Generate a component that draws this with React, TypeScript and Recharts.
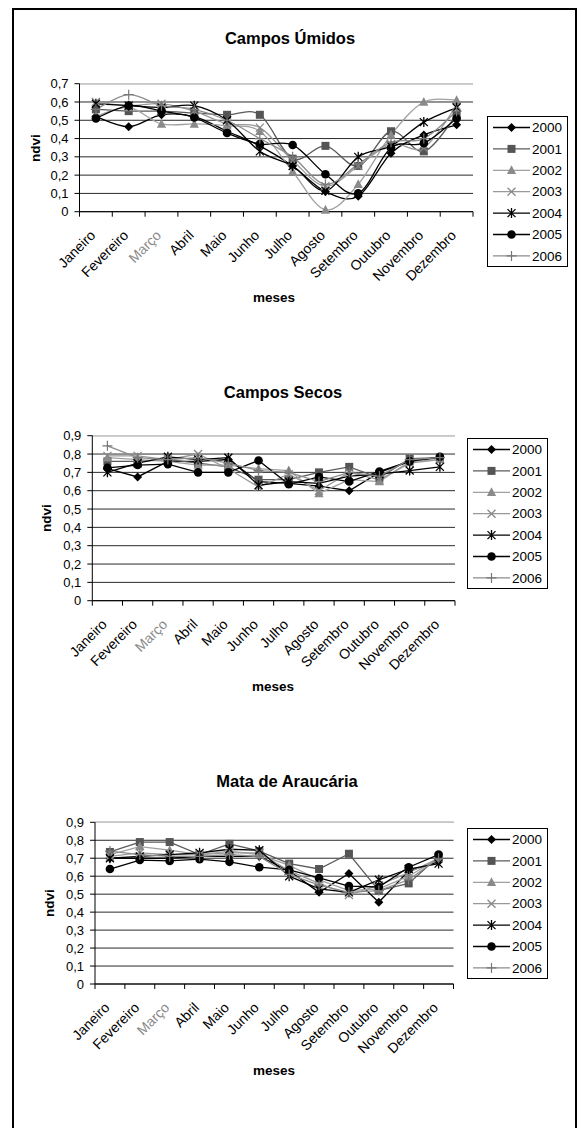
import { LineChart, Line, XAxis, YAxis, CartesianGrid, ReferenceLine, Legend } from "recharts"

const months = ["Janeiro", "Fevereiro", "Março", "Abril", "Maio", "Junho", "Julho", "Agosto", "Setembro", "Outubro", "Novembro", "Dezembro"]
const years = ["2000", "2001", "2002", "2003", "2004", "2005", "2006"]

// Campos Úmidos
const umidos2000 = [0.52, 0.465, 0.53, 0.52, 0.44, 0.36, 0.25, 0.11, 0.085, 0.32, 0.42, 0.475]
const umidos2001 = [0.56, 0.55, 0.55, 0.54, 0.53, 0.53, 0.29, 0.36, 0.25, 0.44, 0.33, 0.53]
const umidos2002 = [0.52, 0.57, 0.48, 0.48, 0.47, 0.44, 0.22, 0.01, 0.15, 0.42, 0.6, 0.61]
const umidos2003 = [0.6, 0.58, 0.59, 0.55, 0.48, 0.46, 0.28, 0.14, 0.25, 0.37, 0.35, 0.58]
const umidos2004 = [0.59, 0.58, 0.57, 0.58, 0.5, 0.33, 0.25, 0.115, 0.3, 0.36, 0.49, 0.57]
const umidos2005 = [0.51, 0.58, 0.55, 0.515, 0.43, 0.37, 0.365, 0.205, 0.1, 0.35, 0.375, 0.51]
const umidos2006 = [0.56, 0.64, 0.58, 0.56, 0.5, 0.4, 0.3, 0.15, 0.26, 0.38, 0.4, 0.55]

// Campos Secos
const secos2000 = [0.72, 0.675, 0.76, 0.76, 0.77, 0.65, 0.64, 0.625, 0.6, 0.7, 0.76, 0.78]
const secos2001 = [0.76, 0.76, 0.77, 0.75, 0.73, 0.66, 0.66, 0.7, 0.73, 0.67, 0.775, 0.78]
const secos2002 = [0.78, 0.77, 0.76, 0.74, 0.74, 0.72, 0.71, 0.585, 0.66, 0.65, 0.76, 0.77]
const secos2003 = [0.79, 0.79, 0.77, 0.8, 0.72, 0.62, 0.69, 0.6, 0.7, 0.66, 0.75, 0.77]
const secos2004 = [0.7, 0.75, 0.785, 0.77, 0.78, 0.63, 0.65, 0.64, 0.68, 0.69, 0.71, 0.73]
const secos2005 = [0.725, 0.74, 0.745, 0.7, 0.7, 0.765, 0.635, 0.675, 0.65, 0.705, 0.76, 0.785]
const secos2006 = [0.845, 0.78, 0.77, 0.78, 0.75, 0.71, 0.7, 0.65, 0.7, 0.68, 0.77, 0.78]

// Mata de Araucária
const mata2000 = [0.7, 0.7, 0.7, 0.71, 0.71, 0.71, 0.63, 0.51, 0.615, 0.455, 0.63, 0.68]
const mata2001 = [0.735, 0.79, 0.79, 0.72, 0.78, 0.74, 0.67, 0.64, 0.725, 0.52, 0.56, 0.71]
const mata2002 = [0.72, 0.765, 0.745, 0.72, 0.74, 0.72, 0.66, 0.58, 0.52, 0.53, 0.6, 0.7]
const mata2003 = [0.71, 0.73, 0.72, 0.72, 0.73, 0.73, 0.63, 0.56, 0.495, 0.55, 0.62, 0.7]
const mata2004 = [0.7, 0.71, 0.72, 0.73, 0.75, 0.745, 0.6, 0.53, 0.51, 0.58, 0.64, 0.67]
const mata2005 = [0.64, 0.69, 0.685, 0.695, 0.68, 0.65, 0.635, 0.59, 0.545, 0.54, 0.65, 0.72]
const mata2006 = [0.74, 0.72, 0.71, 0.71, 0.72, 0.71, 0.61, 0.55, 0.51, 0.52, 0.58, 0.7]

const ticks07 = [0, 0.1, 0.2, 0.3, 0.4, 0.5, 0.6, 0.7]
const ticks09 = [0, 0.1, 0.2, 0.3, 0.4, 0.5, 0.6, 0.7, 0.8, 0.9]

const seriesStyle: Record<string, { stroke: string; marker: string; shape: string }> = {
  "2000": { stroke: "#000", marker: "#000", shape: "diamond" },
  "2001": { stroke: "#5a5a5a", marker: "#555", shape: "square" },
  "2002": { stroke: "#a0a0a0", marker: "#8a8a8a", shape: "triangle" },
  "2003": { stroke: "#999", marker: "#888", shape: "x" },
  "2004": { stroke: "#000", marker: "#000", shape: "star" },
  "2005": { stroke: "#000", marker: "#000", shape: "circle" },
  "2006": { stroke: "#8c8c8c", marker: "#777", shape: "plus" },
}

const buildRows = (series: number[][]) =>
  months.map((mes, i) => {
    const row: any = { mes }
    years.forEach((y, j) => (row[y] = series[j][i]))
    return row
  })

const umidosRows = buildRows([umidos2000, umidos2001, umidos2002, umidos2003, umidos2004, umidos2005, umidos2006])
const secosRows = buildRows([secos2000, secos2001, secos2002, secos2003, secos2004, secos2005, secos2006])
const mataRows = buildRows([mata2000, mata2001, mata2002, mata2003, mata2004, mata2005, mata2006])

// Excel-like smoothed line (Catmull-Rom through the points)
const excelSmooth = (context: any) => {
  let pts: number[][] = []
  return {
    areaStart() {},
    areaEnd() {},
    lineStart() {
      pts = []
    },
    lineEnd() {
      if (!pts.length) return
      context.moveTo(pts[0][0], pts[0][1])
      for (let i = 0; i < pts.length - 1; i++) {
        const p0 = pts[Math.max(i - 1, 0)]
        const p1 = pts[i]
        const p2 = pts[i + 1]
        const p3 = pts[Math.min(i + 2, pts.length - 1)]
        context.bezierCurveTo(
          p1[0] + (p2[0] - p0[0]) / 6,
          p1[1] + (p2[1] - p0[1]) / 6,
          p2[0] - (p3[0] - p1[0]) / 6,
          p2[1] - (p3[1] - p1[1]) / 6,
          p2[0],
          p2[1]
        )
      }
    },
    point(x: number, y: number) {
      pts.push([x, y])
    },
  }
}

const Marker = ({ shape, cx, cy, color }: any) => {
  if (cx == null || cy == null) return null
  switch (shape) {
    case "diamond":
      return <polygon points={`${cx},${cy - 4.5} ${cx + 4.5},${cy} ${cx},${cy + 4.5} ${cx - 4.5},${cy}`} fill={color} />
    case "square":
      return <rect x={cx - 4} y={cy - 4} width={8} height={8} fill={color} />
    case "triangle":
      return <polygon points={`${cx},${cy - 5} ${cx + 4.6},${cy + 3.8} ${cx - 4.6},${cy + 3.8}`} fill={color} />
    case "x":
      return <path d={`M${cx - 4},${cy - 4}L${cx + 4},${cy + 4}M${cx - 4},${cy + 4}L${cx + 4},${cy - 4}`} stroke={color} strokeWidth={1.3} />
    case "star":
      return (
        <path
          d={`M${cx - 4},${cy - 4}L${cx + 4},${cy + 4}M${cx - 4},${cy + 4}L${cx + 4},${cy - 4}M${cx},${cy - 5}L${cx},${cy + 5}`}
          stroke={color}
          strokeWidth={1.3}
        />
      )
    case "circle":
      return <circle cx={cx} cy={cy} r={4.3} fill={color} />
    case "plus":
      return <path d={`M${cx - 5},${cy}L${cx + 5},${cy}M${cx},${cy - 5}L${cx},${cy + 5}`} stroke={color} strokeWidth={1.2} />
    default:
      return null
  }
}

const MonthTick = ({ x, y, payload, index, band }: any) => (
  <g>
    <line x1={x - band / 2} x2={x - band / 2} y1={y} y2={y + 5} stroke="#000" />
    {index === months.length - 1 && <line x1={x + band / 2} x2={x + band / 2} y1={y} y2={y + 5} stroke="#000" />}
    <text
      transform={`translate(${x - 3},${y + 21}) rotate(-45)`}
      textAnchor="end"
      dy="0.35em"
      fontSize={14}
      fill={payload.value === "Março" ? "#8a8a8a" : "#000"}
    >
      {payload.value}
    </text>
  </g>
)

const LegendBox = ({ width, height }: any) => (
  <div
    style={{
      position: "absolute",
      left: 0,
      top: 0,
      width,
      height,
      border: "1px solid #000",
      boxSizing: "border-box",
      background: "#fff",
    }}
  >
    <svg width={width - 2} height={height - 2} style={{ display: "block" }}>
      {years.map((y, i) => {
        const s = seriesStyle[y]
        const cy = 10.5 + i * 21.4
        return (
          <g key={y}>
            <line x1={5} x2={42} y1={cy} y2={cy} stroke={s.stroke} strokeWidth={1.3} />
            <Marker shape={s.shape} cx={23.5} cy={cy} color={s.marker} />
            <text x={44} y={cy} dy="0.35em" fontSize={13.5} fill="#000">
              {y}
            </text>
          </g>
        )
      })}
    </svg>
  </div>
)

const fmt = (v: number) => (v === 0 ? "0" : v.toFixed(1).replace(".", ","))

const NdviChart = ({ top, height, rows, yMax, yTicks, margin, yWidth, legendPos, smooth }: any) => {
  const plotWidth = 579 - margin.left - margin.right - yWidth
  const band = plotWidth / months.length
  return (
    <div style={{ position: "absolute", left: 0, top, width: 579, height }}>
      <LineChart width={579} height={height} data={rows} margin={margin}>
        <CartesianGrid vertical={false} stroke="#2a2a2a" />
        <ReferenceLine y={yMax} stroke="#c8c8c8" strokeWidth={1.5} />
        <XAxis
          dataKey="mes"
          type="category"
          scale="point"
          padding={{ left: band / 2, right: band / 2 }}
          interval={0}
          height={60}
          tickLine={false}
          tickSize={0}
          tickMargin={0}
          axisLine={{ stroke: "#000" }}
          tick={<MonthTick band={band} />}
        />
        <YAxis
          type="number"
          domain={[0, yMax]}
          ticks={yTicks}
          interval={0}
          width={yWidth}
          tickFormatter={fmt}
          tickSize={5}
          tickMargin={6}
          tickLine={{ stroke: "#000" }}
          axisLine={{ stroke: "#000" }}
          tick={{ fill: "#000", fontSize: 13 }}
        />
        <Legend
          content={() => <LegendBox width={81} height={151} />}
          wrapperStyle={{ left: legendPos[0], top: legendPos[1], width: 0, height: 0 }}
        />
        {years.map((y) => {
          const s = seriesStyle[y]
          return (
            <Line
              key={y}
              dataKey={y}
              type={smooth ? (excelSmooth as any) : "linear"}
              stroke={s.stroke}
              strokeWidth={1.3}
              isAnimationActive={false}
              activeDot={false}
              dot={(p: any) => <Marker key={`${y}-${p.index}`} shape={s.shape} cx={p.cx} cy={p.cy} color={s.marker} />}
            />
          )
        })}
      </LineChart>
    </div>
  )
}

const Caption = ({ text, cx, cy, size, rotate }: any) => (
  <div
    style={{
      position: "absolute",
      left: cx - 100,
      top: cy - 10,
      width: 200,
      height: 20,
      lineHeight: "20px",
      textAlign: "center",
      fontWeight: "bold",
      fontSize: size,
      transform: rotate ? "rotate(-90deg)" : undefined,
    }}
  >
    {text}
  </div>
)

export default function App() {
  return (
    <div
      style={{
        position: "absolute",
        left: 0,
        top: 0,
        width: 579,
        height: 1128,
        overflow: "hidden",
        background: "#fff",
        fontFamily: "'Liberation Sans', Arial, sans-serif",
        color: "#000",
      }}
    >
      <div
        style={{
          position: "absolute",
          left: 12,
          top: 8,
          width: 565,
          height: 1200,
          border: "2px solid #000",
          boxSizing: "border-box",
        }}
      />

      <Caption text="Campos Úmidos" cx={290} cy={38} size={16.5} />
      <NdviChart
        top={0}
        height={320}
        rows={umidosRows}
        yMax={0.7}
        yTicks={ticks07}
        margin={{ top: 83.7, right: 106, bottom: 48.3, left: 0 }}
        yWidth={79.5}
        legendPos={[487, 116]}
        smooth
      />
      <Caption text="ndvi" cx={36} cy={148} size={13.5} rotate />
      <Caption text="meses" cx={274} cy={298} size={13.5} />

      <Caption text="Campos Secos" cx={283} cy={392} size={16.5} />
      <NdviChart
        top={380}
        height={320}
        rows={secosRows}
        yMax={0.9}
        yTicks={ticks09}
        margin={{ top: 55.7, right: 124, bottom: 39.3, left: 0 }}
        yWidth={92.3}
        legendPos={[467, 58]}
      />
      <Caption text="ndvi" cx={47} cy={518} size={13.5} rotate />
      <Caption text="meses" cx={273} cy={687} size={13.5} />

      <Caption text="Mata de Araucária" cx={287} cy={781} size={16.5} />
      <NdviChart
        top={770}
        height={320}
        rows={mataRows}
        yMax={0.9}
        yTicks={ticks09}
        margin={{ top: 52.3, right: 125.5, bottom: 46, left: 0 }}
        yWidth={95}
        legendPos={[467, 58]}
      />
      <Caption text="ndvi" cx={50} cy={903} size={13.5} rotate />
      <Caption text="meses" cx={274} cy={1071} size={13.5} />
    </div>
  )
}
